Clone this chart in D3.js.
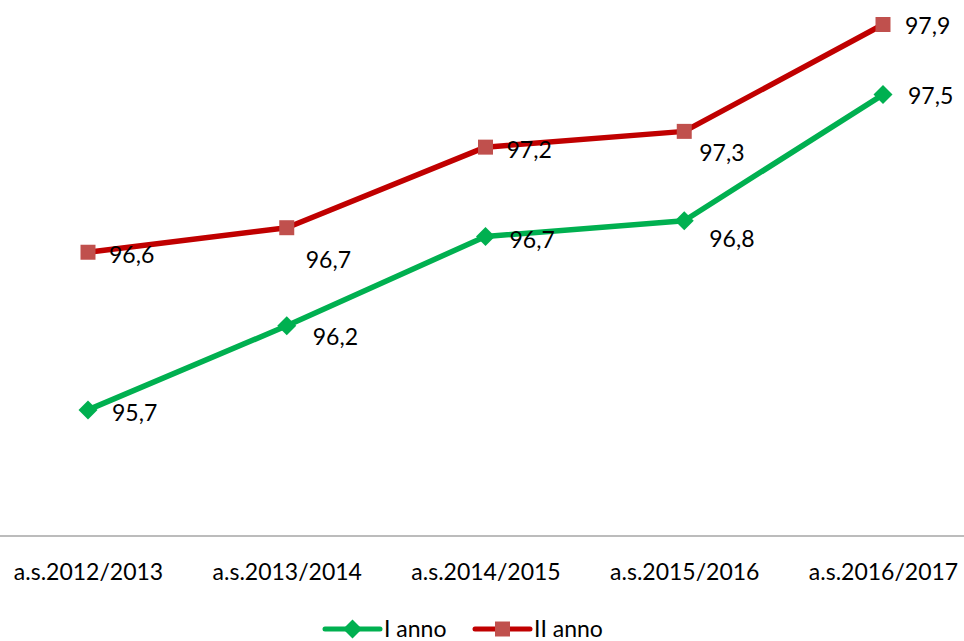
<!DOCTYPE html>
<html>
<head>
<meta charset="utf-8">
<script src="https://cdn.jsdelivr.net/npm/d3@7"></script>
<style>
  body { margin: 0; background: #fff; }
  svg text { font-family: Lato, "Noto Sans", sans-serif; fill: #000; }
</style>
</head>
<body>
<script>
// School years on the x axis
const years = ["a.s.2012/2013", "a.s.2013/2014", "a.s.2014/2015", "a.s.2015/2016", "a.s.2016/2017"];

// Values (labels show one decimal)
const primoAnno = [95.7, 96.18, 96.69, 96.78, 97.5];
const secondoAnno = [96.6, 96.74, 97.2, 97.29, 97.9];

const seriesNames = ["I anno", "II anno"];
const yDomain = [94.98, 98.04];

const width = 964, height = 641;

const svg = d3.select("body").append("svg")
    .attr("width", width)
    .attr("height", height)
    .attr("viewBox", [0, 0, width, height]);

const x = d3.scalePoint().domain(years).range([88, 883]);
const y = d3.scaleLinear().domain(yDomain).range([536, 0]);

const it = d3.formatLocale({ decimal: ",", thousands: ".", grouping: [3], currency: ["", "€"] });
const fmt = it.format(".1f");

// Series config: colours, marker, and how Excel nudged each data label
const series = [
    { name: seriesNames[0], values: primoAnno, line: "#00b050", fill: "#00b050", marker: d3.symbolDiamond2, markerSize: 230,
      nudge: [[24, 3], [26, 11], [24, 3], [25, 18], [25, 1]] },
    { name: seriesNames[1], values: secondoAnno, line: "#c00000", fill: "#c0504d", marker: d3.symbolSquare, markerSize: 225,
      nudge: [[21, 2], [19, 32], [21, 3], [15, 21], [22, 1]] }
];

// Category axis: full-width baseline plus labels
svg.append("line")
    .attr("x1", 0).attr("x2", width)
    .attr("y1", y(yDomain[0])).attr("y2", y(yDomain[0]))
    .attr("stroke", "#a6a6a6")
    .attr("stroke-width", 1.5);

svg.append("g")
    .attr("transform", `translate(0,${y(yDomain[0])})`)
    .call(d3.axisBottom(x).tickSize(0).tickPadding(28))
    .call(g => g.select(".domain").remove())
    .call(g => g.selectAll("text")
        .attr("font-family", null)
        .style("font-size", "23px"));

const line = d3.line()
    .x((d, i) => x(years[i]))
    .y(d => y(d));

for (const s of series) {
    svg.append("path")
        .datum(s.values)
        .attr("fill", "none")
        .attr("stroke", s.line)
        .attr("stroke-width", 5.5)
        .attr("stroke-linejoin", "round")
        .attr("d", line);
}

for (const s of series) {
    const g = svg.append("g");
    g.selectAll("path")
        .data(s.values)
        .join("path")
        .attr("transform", (d, i) => `translate(${x(years[i])},${y(d)})`)
        .attr("d", d3.symbol(s.marker, s.markerSize))
        .attr("fill", s.fill);

    g.selectAll("text")
        .data(s.values)
        .join("text")
        .attr("x", (d, i) => x(years[i]) + s.nudge[i][0])
        .attr("y", (d, i) => y(d) + s.nudge[i][1])
        .attr("dy", "0.36em")
        .style("font-size", "23px")
        .text(d => fmt(d));
}

// Legend at the bottom
const legend = svg.append("g").attr("transform", "translate(325,629)");
const legendItems = legend.selectAll("g")
    .data(series)
    .join("g")
    .attr("transform", (d, i) => `translate(${i * 150},0)`);

legendItems.append("line")
    .attr("x1", 0).attr("x2", 55)
    .attr("stroke", d => d.line)
    .attr("stroke-width", 5)
    .attr("stroke-linecap", "round");

legendItems.append("path")
    .attr("transform", "translate(27.5,0)")
    .attr("d", d => d3.symbol(d.marker, d.markerSize)())
    .attr("fill", d => d.fill);

legendItems.append("text")
    .attr("x", 59)
    .attr("dy", "0.36em")
    .style("font-size", "23px")
    .text(d => d.name);
</script>
</body>
</html>
